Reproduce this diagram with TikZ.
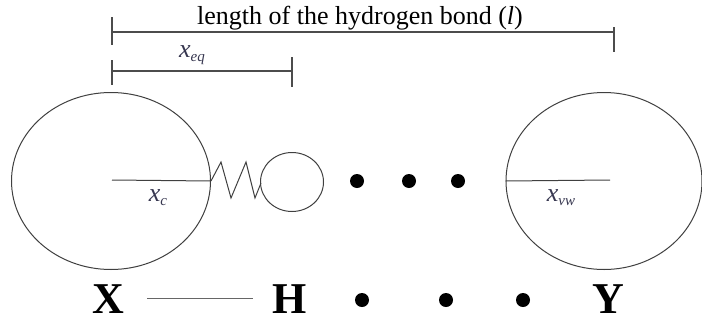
\documentclass[tikz,border=0pt]{standalone}
\usepackage{fontspec}
\setmainfont{Liberation Serif}
\usetikzlibrary{shapes.geometric}
\newcommand{\varsub}[1]{\textit{x}\raisebox{-4pt}{\fontsize{15}{15}\selectfont\textit{#1}}}
\begin{document}
\begin{tikzpicture}[x=1pt,y=-1pt,
  dimline/.style={draw=black!70, line width=1.2pt},
  atom/.style={draw=black!75, line width=1pt},
  dotatom/.style={circle, fill=black, inner sep=0pt, minimum size=14pt},
  biglabel/.style={font=\fontsize{44}{46}\selectfont\bfseries, inner sep=0pt, anchor=base},
  varlabel/.style={text={rgb,255:red,55;green,55;blue,80}, font=\fontsize{26}{30}\selectfont, inner sep=0pt}
]
\useasboundingbox (0,0) rectangle (702,322);
% dimension lines
\coordinate (La) at (112,32);
\coordinate (Lb) at (614,32);
\coordinate (Ea) at (112,71);
\coordinate (Eb) at (292,71);
\draw[dimline] (La) -- (Lb);
\draw[dimline] ([yshift=15pt]La) -- ([yshift=-13pt]La);
\draw[dimline] ([yshift=5pt]Lb) -- ([yshift=-20pt]Lb);
\draw[dimline] (Ea) -- (Eb);
\draw[dimline] ([yshift=11pt]Ea) -- ([yshift=-14pt]Ea);
\draw[dimline] ([yshift=14pt]Eb) -- ([yshift=-16pt]Eb);
\node[anchor=base, inner sep=0pt, font=\fontsize{26}{30}\selectfont] (title) at (360,24) {length of the hydrogen bond (\textit{l})};
\node[varlabel] (xeq) at (192,55) {\varsub{eq}};
% left atom
\node[atom, ellipse, minimum width=199pt, minimum height=177pt, inner sep=0pt] (XA) at (111,181) {};
\coordinate (Xc) at (112,180);
\draw[atom] (Xc) -- (XA.east);
\node[varlabel] (xc) at (158,198) {\varsub{c}};
% spring
\draw[atom] (XA.east) -- (221,162) -- (231,198) -- (246,162) -- (255,198) -- (261,183);
% hydrogen
\node[atom, ellipse, minimum width=63pt, minimum height=59pt, inner sep=0pt] (HA) at (292,182) {};
% dots
\node[dotatom] (d1) at (357,181) {};
\node[dotatom] (d2) at (409,181) {};
\node[dotatom] (d3) at (458,181) {};
% right atom
\node[atom, ellipse, minimum width=196pt, minimum height=177pt, inner sep=0pt] (YA) at (604,181) {};
\coordinate (Yc) at (610,180);
\draw[atom] (YA.west) -- (Yc);
\node[varlabel] (xvw) at (561,198) {\varsub{vw}};
% bottom row
\node[biglabel] (X) at (108,313) {X};
\node[biglabel] (H) at (290,313) {H};
\node[biglabel] (Y) at (608,313) {Y};
\draw[draw=black!60, line width=1.2pt] ([xshift=23pt]X.east) -- ([xshift=-20pt]H.west);
\node[dotatom] (e1) at (362,300) {};
\node[dotatom] (e2) at (446,300) {};
\node[dotatom] (e3) at (523,300) {};
\end{tikzpicture}
\end{document}
